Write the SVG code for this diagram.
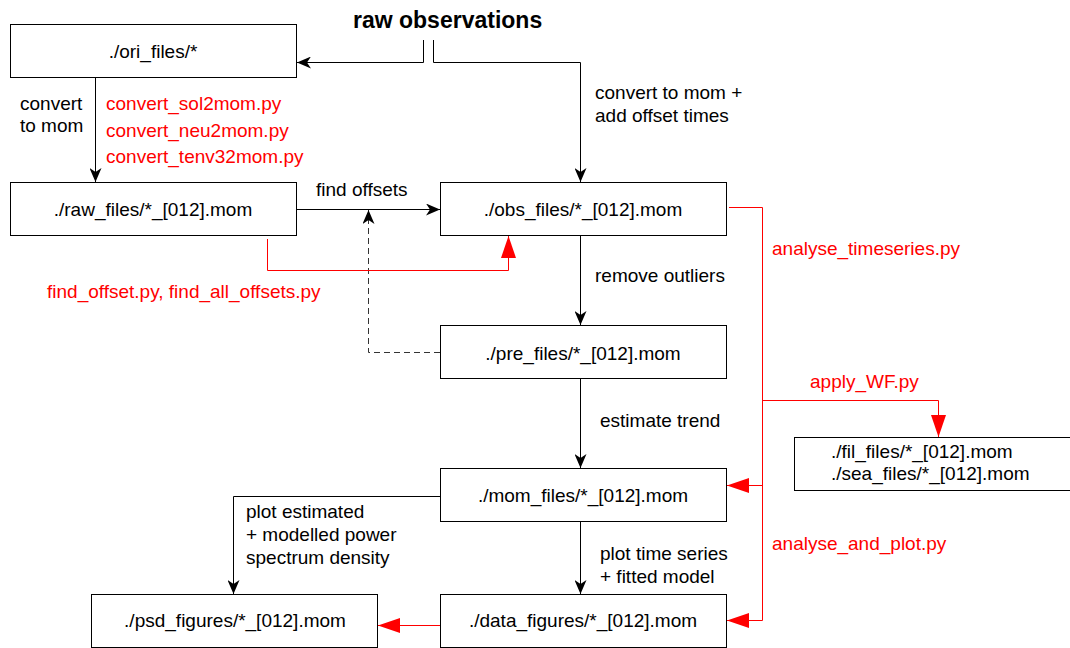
<svg xmlns="http://www.w3.org/2000/svg" width="1070" height="648" viewBox="0 0 1070 648">
<style>
  .box { fill: #ffffff; stroke: #000000; stroke-width: 1; }
  .t { font-family: "Liberation Sans", Arial, sans-serif; font-size: 19px; fill: #000000; }
  .c { text-anchor: middle; }
  .r { fill: #ff0000; }
  .title { font-family: "Liberation Sans", Arial, sans-serif; font-size: 23px; font-weight: bold; fill: #000000; }
  .bl { fill: none; stroke: #000000; stroke-width: 1; }
  .dash { fill: none; stroke: #333333; stroke-width: 1; stroke-dasharray: 6 4; }
  .rl { fill: none; stroke: #ff0000; stroke-width: 1; }
</style>
<defs>
  <marker id="ab" markerUnits="userSpaceOnUse" markerWidth="14" markerHeight="12" refX="14" refY="6" orient="auto" viewBox="0 0 14 12">
    <path d="M0,0 L14,6 L0,12 L4,6 z" fill="#000000"/>
  </marker>
  <marker id="ar" markerUnits="userSpaceOnUse" markerWidth="22" markerHeight="15" refX="22" refY="7.5" orient="auto" viewBox="0 0 22 15">
    <path d="M0,0 L22,7.5 L0,15 z" fill="#ff0000"/>
  </marker>
</defs>
<rect width="1070" height="648" fill="#ffffff"/>

<g id="connectors">
  <path class="bl" d="M423.5,40 V62.5 H297" marker-end="url(#ab)"/>
  <path class="bl" d="M433.5,40 V62.5 H580.5 V182" marker-end="url(#ab)"/>
  <path class="bl" d="M95.5,77 V182" marker-end="url(#ab)"/>
  <path class="bl" d="M296,209.5 H440" marker-end="url(#ab)"/>
  <path class="dash" d="M440,352.5 H368.5 V210" marker-end="url(#ab)"/>
  <path class="bl" d="M580.5,236 V325" marker-end="url(#ab)"/>
  <path class="bl" d="M580.5,379 V468" marker-end="url(#ab)"/>
  <path class="bl" d="M580.5,522 V594" marker-end="url(#ab)"/>
  <path class="bl" d="M440,496.5 H233.5 V594" marker-end="url(#ab)"/>
  <path class="rl" d="M267.5,239 V270.5 H508.5 V236" marker-end="url(#ar)"/>
  <path class="rl" d="M729,207.5 H762.5 V620.5 H727" marker-end="url(#ar)"/>
  <path class="rl" d="M762.5,485.5 H727" marker-end="url(#ar)"/>
  <path class="rl" d="M762.5,400.5 H938.5 V437" marker-end="url(#ar)"/>
  <path class="rl" d="M440,625.5 H378" marker-end="url(#ar)"/>
</g>

<g id="labels">
  <text class="title" x="353" y="28">raw observations</text>
  <text class="t" x="20" y="110">convert</text>
  <text class="t" x="20" y="132">to mom</text>
  <text class="t r" x="106" y="110">convert_sol2mom.py</text>
  <text class="t r" x="106" y="137">convert_neu2mom.py</text>
  <text class="t r" x="106" y="163">convert_tenv32mom.py</text>
  <text class="t" x="595" y="99">convert to mom +</text>
  <text class="t" x="595" y="122">add offset times</text>
  <text class="t" x="316" y="196">find offsets</text>
  <text class="t r" x="47" y="298">find_offset.py, find_all_offsets.py</text>
  <text class="t r" x="772" y="255">analyse_timeseries.py</text>
  <text class="t" x="595" y="282">remove outliers</text>
  <text class="t r" x="810" y="388">apply_WF.py</text>
  <text class="t" x="600" y="427">estimate trend</text>
  <text class="t" x="246" y="518">plot estimated</text>
  <text class="t" x="246" y="541">+ modelled power</text>
  <text class="t" x="246" y="564">spectrum density</text>
  <text class="t" x="600" y="560">plot time series</text>
  <text class="t" x="600" y="583">+ fitted model</text>
  <text class="t r" x="772" y="550">analyse_and_plot.py</text>
</g>

<g id="ori">
  <rect class="box" x="10.5" y="24.5" width="286" height="53"/>
  <text class="t c" x="153" y="58">./ori_files/*</text>
</g>
<g id="raw">
  <rect class="box" x="10.5" y="182.5" width="286" height="53"/>
  <text class="t c" x="153" y="216">./raw_files/*_[012].mom</text>
</g>
<g id="obs">
  <rect class="box" x="440.5" y="182.5" width="286" height="53"/>
  <text class="t c" x="583" y="216">./obs_files/*_[012].mom</text>
</g>
<g id="pre">
  <rect class="box" x="440.5" y="325.5" width="286" height="53"/>
  <text class="t c" x="583" y="360">./pre_files/*_[012].mom</text>
</g>
<g id="mom">
  <rect class="box" x="440.5" y="468.5" width="286" height="53"/>
  <text class="t c" x="583" y="502">./mom_files/*_[012].mom</text>
</g>
<g id="data">
  <rect class="box" x="440.5" y="594.5" width="286" height="53"/>
  <text class="t c" x="583" y="627">./data_figures/*_[012].mom</text>
</g>
<g id="psd">
  <rect class="box" x="91.5" y="594.5" width="286" height="53"/>
  <text class="t c" x="235" y="627">./psd_figures/*_[012].mom</text>
</g>
<g id="fil">
  <rect class="box" x="794.5" y="437.5" width="276" height="53"/>
  <text class="t" x="831" y="458">./fil_files/*_[012].mom</text>
  <text class="t" x="831" y="480">./sea_files/*_[012].mom</text>
</g>
</svg>
